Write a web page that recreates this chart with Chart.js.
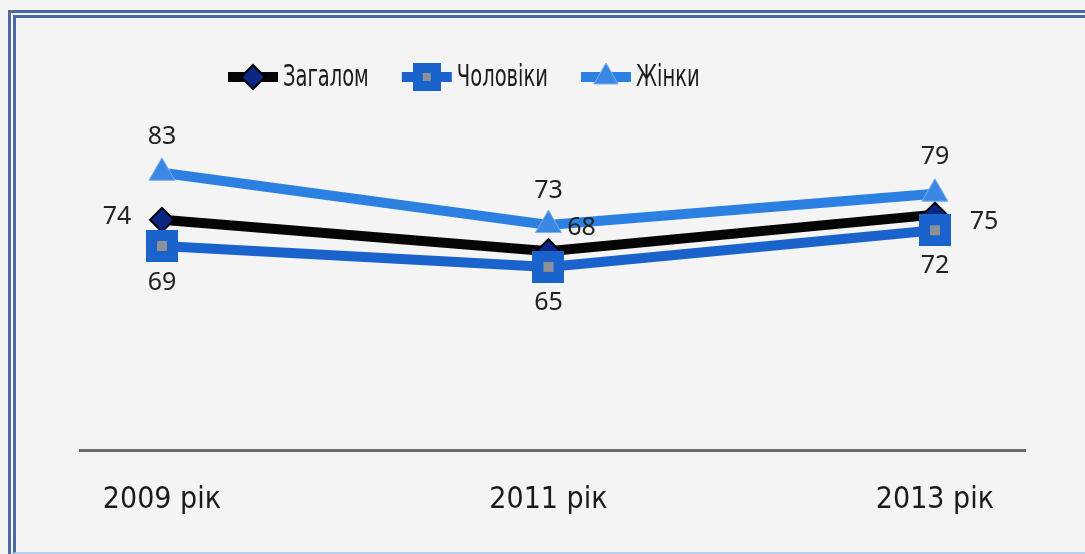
<!DOCTYPE html>
<html>
<head>
<meta charset="utf-8">
<script src="https://cdn.jsdelivr.net/npm/chart.js@4/dist/chart.umd.min.js"></script>
<style>
  html, body { margin: 0; padding: 0; background: #f4f4f5; }
  #wrap { position: relative; width: 1085px; height: 554px; overflow: hidden; }
  #frame {
    position: absolute; left: 8px; top: 10px; width: 1100px; height: 534px;
    border-top: 8px double #4a6aa0; border-left: 8px double #4a6aa0;
    border-bottom: 3px solid #b4d0ec;
  }
  canvas { position: absolute; left: 0; top: 0; }
</style>
</head>
<body>
<div id="wrap">
  <div id="frame"></div>
  <canvas id="chart" width="1085" height="554"></canvas>
</div>
<script>
// DATA
const years = ['2009 рік', '2011 рік', '2013 рік'];
const seriesNames = ['Загалом', 'Чоловіки', 'Жінки'];
const totalVals = [74, 68, 75];
const menVals = [69, 65, 72];
const womenVals = [83, 73, 79];

const labelFont = '25px "Noto Sans", "DejaVu Sans", sans-serif';
const narrowFont = '"Liberation Sans Narrow", "DejaVu Sans Condensed", "Noto Sans", sans-serif';

// square marker with grey dot, like the scan
function makeSquare(size) {
  const c = document.createElement('canvas');
  c.width = size; c.height = size;
  const g = c.getContext('2d');
  g.fillStyle = '#1b63cc';
  g.fillRect(0, 0, size, size);
  const s = Math.round(size * 0.3);
  g.fillStyle = '#8d9198';
  g.fillRect((size - s) / 2, (size - s) / 2, s, s);
  return c;
}
const squareImg = makeSquare(32);
const squareLegend = makeSquare(28);

function toPoints(vals) {
  return vals.map((v, i) => ({ x: i, y: v }));
}

// label offsets per dataset / point
const labelOffsets = [
  [{ dx: -45, dy: -3 }, { dx: 33, dy: -23 }, { dx: 49, dy: 7 }],
  [{ dx: 0, dy: 37 }, { dx: 0, dy: 36 }, { dx: 0, dy: 36 }],
  [{ dx: 0, dy: -36 }, { dx: 0, dy: -34 }, { dx: 0, dy: -37 }]
];

const valueLabels = {
  id: 'valueLabels',
  afterDatasetsDraw(chart) {
    const ctx = chart.ctx;
    ctx.save();
    ctx.font = labelFont;
    ctx.fillStyle = '#222';
    ctx.textAlign = 'center';
    ctx.textBaseline = 'middle';
    chart.data.datasets.forEach((ds, i) => {
      chart.getDatasetMeta(i).data.forEach((pt, j) => {
        const o = labelOffsets[i][j];
        ctx.fillText(ds.data[j].y, pt.x + o.dx, pt.y + o.dy);
      });
    });
    ctx.restore();
  }
};

// legend: line sample with marker, then name (text squeezed like the scan)
const lineLegend = {
  id: 'lineLegend',
  afterDraw(chart) {
    const ctx = chart.ctx;
    const y = 77;
    const squeeze = 0.7;
    let x = 228;
    ctx.save();
    ctx.font = '31px ' + narrowFont;
    ctx.textBaseline = 'middle';
    chart.data.datasets.forEach(ds => {
      ctx.strokeStyle = ds.borderColor;
      ctx.lineWidth = 10;
      ctx.beginPath();
      ctx.moveTo(x, y);
      ctx.lineTo(x + 50, y);
      ctx.stroke();
      const cx = x + 25;
      if (ds.pointStyle === 'rectRot') {
        const r = 12;
        ctx.beginPath();
        ctx.moveTo(cx - r, y); ctx.lineTo(cx, y - r); ctx.lineTo(cx + r, y); ctx.lineTo(cx, y + r);
        ctx.closePath();
        ctx.fillStyle = ds.pointBackgroundColor;
        ctx.fill();
        ctx.lineWidth = 2; ctx.strokeStyle = ds.pointBorderColor; ctx.stroke();
      } else if (ds.pointStyle === 'triangle') {
        const r = 14;
        ctx.beginPath();
        ctx.moveTo(cx, y - r);
        ctx.lineTo(cx + r * 0.866, y + r / 2);
        ctx.lineTo(cx - r * 0.866, y + r / 2);
        ctx.closePath();
        ctx.fillStyle = ds.pointBackgroundColor;
        ctx.fill();
        ctx.lineWidth = 1; ctx.strokeStyle = ds.pointBorderColor; ctx.stroke();
      } else {
        ctx.drawImage(squareLegend, cx - 14, y - 14);
      }
      ctx.fillStyle = '#1a1a1a';
      ctx.save();
      ctx.translate(x + 55, y + 1);
      ctx.scale(squeeze, 1);
      ctx.fillText(ds.label, 0, 0);
      ctx.restore();
      x += 55 + ctx.measureText(ds.label).width * squeeze + 33;
    });
    ctx.restore();
  }
};

new Chart(document.getElementById('chart'), {
  type: 'line',
  data: {
    datasets: [
      {
        label: seriesNames[0],
        data: toPoints(totalVals),
        borderColor: '#050505',
        borderWidth: 10,
        pointStyle: 'rectRot',
        pointRadius: 12,
        pointBackgroundColor: '#0b2784',
        pointBorderColor: '#000',
        pointBorderWidth: 2,
        order: 2
      },
      {
        label: seriesNames[1],
        data: toPoints(menVals),
        borderColor: '#1b63cc',
        borderWidth: 10,
        pointStyle: squareImg,
        pointRadius: 16,
        order: 1
      },
      {
        label: seriesNames[2],
        data: toPoints(womenVals),
        borderColor: '#2b80e2',
        borderWidth: 10,
        pointStyle: 'triangle',
        pointRadius: 15,
        pointBackgroundColor: '#3a88e4',
        pointBorderColor: '#79aef0',
        pointBorderWidth: 1,
        order: 3
      }
    ]
  },
  options: {
    responsive: false,
    animation: false,
    layout: { padding: { top: 110, left: 80, right: 60, bottom: 4 } },
    plugins: { legend: { display: false }, tooltip: { enabled: false } },
    elements: { line: { tension: 0 } },
    scales: {
      x: {
        type: 'linear',
        min: -0.212,
        max: 2.233,
        afterBuildTicks: s => { s.ticks = years.map((_, i) => ({ value: i })); },
        ticks: {
          callback: v => years[v],
          padding: 32,
          maxRotation: 0,
          color: '#1a1a1a',
          font: { family: narrowFont, size: 30 }
        },
        grid: { display: false, drawTicks: false },
        border: { display: true, color: '#6a6a6a', width: 3 }
      },
      y: {
        display: false,
        min: 30,
        max: 95
      }
    }
  },
  plugins: [valueLabels, lineLegend]
});
</script>
</body>
</html>
